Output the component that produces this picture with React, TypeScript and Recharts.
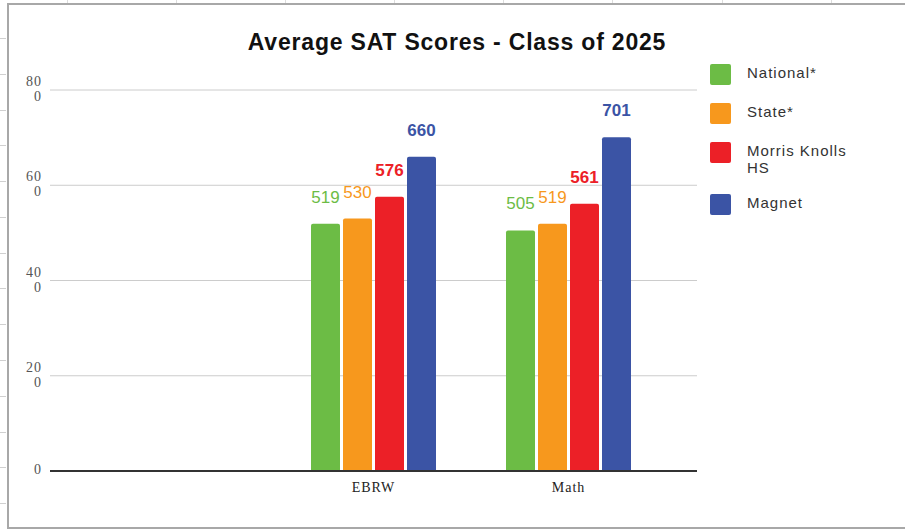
import React from 'react';
import { BarChart, Bar, XAxis, YAxis, CartesianGrid, LabelList } from 'recharts';

// first category is intentionally blank (empty slot in the source sheet)
const categories = ['', 'EBRW', 'Math'];
const national = [null, 519, 505];
const state = [null, 530, 519];
const morrisKnolls = [null, 576, 561];
const magnet = [null, 660, 701];
const yTicks = [0, 200, 400, 600, 800];

const series = [
  { key: 'national', name: 'National*', color: '#6cbc45', bold: false },
  { key: 'state', name: 'State*', color: '#f7981d', bold: false },
  { key: 'morrisKnolls', name: 'Morris Knolls HS', color: '#ec2027', bold: true },
  { key: 'magnet', name: 'Magnet', color: '#3b54a5', bold: true },
];

const data = categories.map((cat, i) => ({
  cat,
  national: national[i],
  state: state[i],
  morrisKnolls: morrisKnolls[i],
  magnet: magnet[i],
}));

const sans = '"Liberation Sans", Arial, sans-serif';
const serif = '"Liberation Serif", "Times New Roman", serif';

// sheet row / column separators peeking out round the chart frame
const rowTicks = [38, 74, 110, 145, 181, 217, 253, 288, 324, 360, 396, 432, 467, 503];
const colTicks = [67, 176, 285, 394, 503, 612, 722, 831];

const YTick = (props: any) => {
  const { x, y, payload } = props;
  const s = String(payload.value);
  const style = { fontFamily: serif, fontSize: 14, fill: '#555', letterSpacing: 1 };
  if (s.length === 1) {
    return (
      <text x={x} y={y} textAnchor="end" dominantBaseline="middle" style={style}>
        {s}
      </text>
    );
  }
  return (
    <g>
      <text x={x} y={y - 7} textAnchor="end" dominantBaseline="middle" style={style}>
        {s.slice(0, -1)}
      </text>
      <text x={x} y={y + 8} textAnchor="end" dominantBaseline="middle" style={style}>
        {s.slice(-1)}
      </text>
    </g>
  );
};

const LegendBox = () => (
  <div
    style={{
      position: 'absolute',
      left: 710,
      top: 64,
      width: 180,
      fontFamily: sans,
      fontSize: 15,
      letterSpacing: 1,
      color: '#333',
    }}
  >
    {series.map((s) => (
      <div key={s.key} style={{ display: 'flex', alignItems: 'flex-start', marginBottom: 18 }}>
        <div
          style={{
            width: 21,
            height: 21,
            borderRadius: 2,
            background: s.color,
            flex: 'none',
          }}
        />
        <div style={{ marginLeft: 16, width: 120, lineHeight: '17px' }}>{s.name}</div>
      </div>
    ))}
  </div>
);

export default function App() {
  return (
    <div
      style={{
        position: 'fixed',
        left: 0,
        top: 0,
        width: 905,
        height: 531,
        background: '#fff',
        overflow: 'hidden',
      }}
    >
      {rowTicks.map((y) => (
        <div
          key={'r' + y}
          style={{ position: 'absolute', left: 0, top: y, width: 6, height: 1, background: '#d0d0d0' }}
        />
      ))}
      {colTicks.map((x) => (
        <div
          key={'c' + x}
          style={{ position: 'absolute', left: x, top: 0, width: 1, height: 3, background: '#dddddd' }}
        />
      ))}
      {/* chart frame */}
      <div style={{ position: 'absolute', left: 7, top: 3, width: 898, height: 2, background: '#a8a8a8' }} />
      <div style={{ position: 'absolute', left: 7, top: 3, width: 2, height: 526, background: '#a8a8a8' }} />
      <div style={{ position: 'absolute', left: 7, top: 527, width: 898, height: 2, background: '#a8a8a8' }} />
      <div
        style={{
          position: 'absolute',
          left: 0,
          top: 29,
          width: 905,
          textAlign: 'center',
          fontFamily: sans,
          fontWeight: 'bold',
          fontSize: 23,
          letterSpacing: 0.8,
          color: '#111',
          paddingLeft: 9,
          boxSizing: 'border-box',
        }}
      >
        Average SAT Scores - Class of 2025
      </div>
      <LegendBox />
      <div style={{ position: 'absolute', left: 0, top: 0 }}>
        <BarChart
          width={905}
          height={531}
          data={data}
          margin={{ top: 90, right: 208, left: 0, bottom: 30 }}
          barCategoryGap={35}
          barGap={3}
        >
          <CartesianGrid horizontal vertical={false} stroke="#cccccc" />
          <XAxis
            dataKey="cat"
            height={30}
            padding={{ left: 31, right: 31 }}
            tickLine={false}
            axisLine={{ stroke: '#333', strokeWidth: 2 }}
            tick={{ fontFamily: serif, fontSize: 14, fill: '#222', letterSpacing: 1, dy: 3 }}
          />
          <YAxis
            width={50}
            domain={[0, 800]}
            ticks={yTicks}
            interval={0}
            axisLine={false}
            tickLine={false}
            tick={<YTick />}
          />
          {series.map((s) => (
            <Bar
              key={s.key}
              dataKey={s.key}
              name={s.name}
              fill={s.color}
              radius={[2, 2, 0, 0]}
              isAnimationActive={false}
            >
              <LabelList
                dataKey={s.key}
                position="top"
                offset={21}
                fill={s.color}
                style={{ fontFamily: sans, fontSize: 17, fontWeight: s.bold ? 'bold' : 'normal' }}
              />
            </Bar>
          ))}
        </BarChart>
      </div>
    </div>
  );
}
